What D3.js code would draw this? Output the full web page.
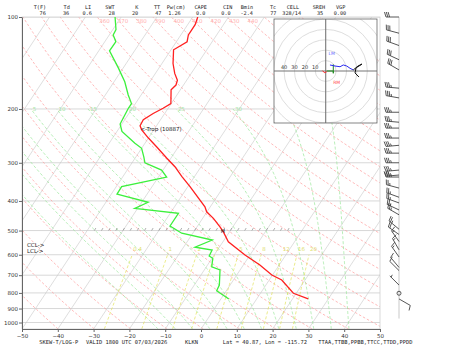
<!DOCTYPE html>
<html>
<head>
<meta charset="utf-8">
<script src="https://cdn.jsdelivr.net/npm/d3@7"></script>
<style>
    body { margin: 0; background: #fff; }
    svg text { font-family: "DejaVu Sans", sans-serif; }
    .mono { font-family: "DejaVu Sans Mono", monospace; }
</style>
</head>
<body>
<div id="chart"></div>
<script>

// ---------- sounding data ----------
let tempP  = [100, 106, 110, 114.5, 120.5, 128, 142, 153, 161, 167, 173, 192, 199, 207, 217, 227, 234, 249, 266, 290, 309, 333, 359, 418, 434, 456, 486, 504, 544, 601, 648, 699, 726, 802, 837];
let tempT  = [-58.6, -57.9, -57.9, -57.9, -57.0, -59.3, -56.9, -54.6, -52.6, -52.1, -52.6, -50.1, -51.4, -53.2, -54.8, -54.6, -53.4, -50.0, -46.1, -41.1, -37.3, -33.5, -29.4, -21.5, -20.1, -17.0, -13.6, -11.8, -8.5, -1.4, 4.6, 9.8, 13.5, 19.2, 24.4];

let dwptP  = [100, 110, 114.5, 120.5, 129, 147, 163, 180, 192, 199, 224, 237, 259, 269, 287, 300, 317, 334, 359, 380, 404, 423, 439, 483, 510, 537, 567, 579, 606, 616, 657, 673, 754, 787, 837];
let dwptT  = [-81.7, -79.1, -78.9, -76.9, -77.0, -71.3, -67.0, -63.6, -61.1, -61.1, -60.5, -58.6, -52.8, -50.0, -47.8, -46.4, -40.4, -37.7, -48.5, -48.4, -38.2, -40.8, -27.7, -27.7, -23.1, -13.3, -16.8, -11.5, -11.2, -9.8, -8.5, -5.6, -3.0, -2.7, 2.2];

// wind barbs: pressure (hPa), direction (deg), speed (kt)
let windP   = [100, 113, 124, 138, 149, 171, 184, 205, 221, 231, 249, 263, 279, 300, 317, 329, 334, 363, 389, 406, 428, 444, 495, 515, 543, 578, 610, 660, 676, 754, 802, 837];
let windDir = [270, 285, 290, 295, 300, 275, 280, 270, 275, 270, 270, 265, 270, 270, 265, 265, 270, 285, 290, 290, 295, 300, 310, 305, 325, 330, 325, 320, 315, 315, 0, 120];
let windSpd = [30, 30, 30, 30, 30, 35, 35, 35, 35, 35, 35, 35, 35, 35, 35, 35, 35, 25, 25, 25, 25, 25, 25, 20, 15, 15, 15, 10, 10, 5, 0, 10];

// hodograph segments (u, v in kt)
let hodoRedU   = [-3, -1.3, 1];
let hodoRedV   = [0.3, -1.6, -0.7];
let hodoGreenU = [1, 7.3, 7.3, 7.3];
let hodoGreenV = [0, 0, -2.2, 6.4];
let hodoBlueU  = [4.1, 8.9, 13.8, 16.9, 20.2, 23.4, 26.5];
let hodoBlueV  = [5.8, 4.8, 4.1, 5.8, 4.8, 2.6, 1.0];
let hodoBlackU = [26.5, 31.1, 34.9, 29.1, 28.2, 32.0];
let hodoBlackV = [1.0, 4.8, 6.7, 2.9, -1.9, -5.8];
let stormLM = [5.8, 17.6];
let stormRM = [10.6, -10.9];
let hodoRings = [10, 20, 30, 40, 50, 60, 70];
let hodoRingLabels = [40, 30, 20, 10];

// background line sets
let isotherms   = d3.range(-160, 51, 10);
let dryThetas   = d3.range(200, 481, 10);
let dryLabels   = [360, 370, 380, 390, 400, 410, 420, 430, 440];
let moistThetaW = [-15, -10, -5, 0, 5, 10, 15, 20, 25, 30, 35, 40];
let moistLabels = [5, 10, 15, 20, 25, 30];
let mixRatios   = [0.4, 1, 2, 3, 5, 8, 12, 16, 20];

// axes
let pressureTicks = [100, 200, 300, 400, 500, 600, 700, 800, 900, 1000];
let tempTicks     = d3.range(-50, 51, 10);

// header / footer text
let headerLabels = ["T(F)", "Td", "LI", "SWT", "K", "TT", "Pw(cm)", "CAPE", "CIN", "Bmin", "Tc", "CELL", "SREH", "VGP"];
let headerValues = ["76", "36", "0.6", "28", "20", "47", "1.26", "0.0", "0.0", "-2.4", "77", "328/14", "35", "0.00"];
let footerParts  = ["SKEW-T/LOG-P", "VALID 1800 UTC 07/03/2026", "KLKN", "Lat = 40.87, Lon = -115.72", "TTAA,TTBB,PPBB,TTCC,TTDD,PPDD"];

let tropP = 232, tropT = -54.5, tropLabel = "<-Trop (10887)";
let cclP = 559, lclP = 582;


// ---------- layout ----------
let W = 450, H = 346;
let plot = {left: 22, right: 380, top: 17, bottom: 329};
let skew = 0.662;

let svg = d3.select("#chart").append("svg")
    .attr("width", W)
    .attr("height", H);

let xS = d3.scaleLinear().domain([-50, 50]).range([plot.left, plot.right]);
let yS = d3.scaleLog().domain([1050, 100]).range([plot.bottom, plot.top]);

function X(T, p) {
    return xS(T) + skew * (yS(1050) - yS(p));
}

svg.append("defs").append("clipPath").attr("id", "plotclip")
    .append("rect")
    .attr("x", plot.left).attr("y", plot.top)
    .attr("width", plot.right - plot.left).attr("height", plot.bottom - plot.top);

let bg = svg.append("g").attr("clip-path", "url(#plotclip)");

let line = d3.line().x(d => X(d.T, d.p)).y(d => yS(d.p));

// log-spaced pressure levels
function levels(pBot, pTop, n) {
    return d3.range(n + 1).map(i => pBot * Math.pow(pTop / pBot, i / n));
}

// isobars
bg.selectAll(".isobar").data(pressureTicks).enter().append("line")
    .attr("x1", plot.left).attr("x2", plot.right)
    .attr("y1", d => yS(d)).attr("y2", d => yS(d))
    .attr("stroke", "#d8d8d8").attr("stroke-width", 1);

// isotherms
bg.selectAll(".isotherm").data(isotherms).enter().append("path")
    .attr("d", t => line([{T: t, p: 1050}, {T: t, p: 100}]))
    .attr("fill", "none").attr("stroke", "#c8c8c8").attr("stroke-width", 0.6);

// dry adiabats
let dryT = (theta, p) => theta * Math.pow(p / 1000, 0.2857) - 273.15;
bg.selectAll(".dry").data(dryThetas).enter().append("path")
    .attr("d", th => line(levels(1050, 100, 40).map(p => ({p: p, T: dryT(th, p)}))))
    .attr("fill", "none").attr("stroke", "#ff9c9c").attr("stroke-width", 0.7)
    .attr("stroke-dasharray", "2.5,2");

// moist adiabats
function es(Tk) { return 6.112 * Math.exp(17.67 * (Tk - 273.15) / (Tk - 29.65)); }
function dTdp(p, Tk) {
    let Rd = 287.04, cp = 1005.7, Lv = 2.501e6, eps = 0.622;
    let e = es(Tk);
    let rs = eps * e / (p - e);
    return (Rd * Tk + Lv * rs) / (p * (cp + Lv * Lv * rs * eps / (Rd * Tk * Tk)));
}
function moistPath(thw, pEnd) {
    let pts = [];
    let Tk = thw + 273.15, p = 1000, dp = (pEnd > 1000) ? 5 : -5;
    pts.push({p: p, T: Tk - 273.15});
    while ((dp < 0 && p > pEnd) || (dp > 0 && p < pEnd)) {
        let k1 = dTdp(p, Tk);
        let k2 = dTdp(p + dp, Tk + k1 * dp);
        Tk += 0.5 * (k1 + k2) * dp;
        p += dp;
        pts.push({p: p, T: Tk - 273.15});
    }
    return pts;
}
let moistLines = moistThetaW.map(thw => {
    let up = moistPath(thw, 200);
    let down = moistPath(thw, 1050).reverse();
    return down.concat(up.slice(1));
});
bg.selectAll(".moist").data(moistLines).enter().append("path")
    .attr("d", d => line(d))
    .attr("fill", "none").attr("stroke", "#98e698").attr("stroke-width", 0.7)
    .attr("stroke-dasharray", "3,2");

// mixing ratio lines
function tdFromW(w, p) {
    let e = (w / 1000) * p / (0.622 + w / 1000);
    let l = Math.log(e / 6.112);
    return 243.5 * l / (17.67 - l);
}
bg.selectAll(".mix").data(mixRatios).enter().append("path")
    .attr("d", w => line(levels(1050, 600, 20).map(p => ({p: p, T: tdFromW(w, p)}))))
    .attr("fill", "none").attr("stroke", "#e3e35a").attr("stroke-width", 0.7)
    .attr("stroke-dasharray", "3,2");

// 500 hPa hatch
bg.selectAll(".hatch").data(d3.range(-48, 7, 2)).enter().append("line")
    .attr("x1", t => X(t, 500)).attr("y1", yS(500))
    .attr("x2", t => X(t, 500) + 1.5).attr("y2", yS(500) - 2.5)
    .attr("stroke", "#777").attr("stroke-width", 0.6);

// line labels
svg.selectAll(".drylab").data(dryLabels).enter().append("text")
    .attr("x", th => X(dryT(th, 100), 100) + 2)
    .attr("y", 23)
    .attr("font-size", 5.5).attr("fill", "#ffb0b0")
    .text(d => d);

svg.selectAll(".moistlab").data(moistLabels).enter().append("text")
    .attr("x", thw => {
        let pts = moistLines[moistThetaW.indexOf(thw)];
        let top = pts[pts.length - 1];
        return X(top.T, top.p) + 2;
    })
    .attr("y", yS(200) + 2)
    .attr("font-size", 5.5).attr("fill", "#a6e6a6")
    .text(d => d);

svg.selectAll(".mixlab").data(mixRatios).enter().append("text")
    .attr("x", w => X(tdFromW(w, 600), 600) + 1)
    .attr("y", yS(600) - 4)
    .attr("font-size", 5.5).attr("fill", "#e0e070")
    .text(d => d);

// frame + axes
svg.append("rect")
    .attr("x", plot.left).attr("y", plot.top)
    .attr("width", plot.right - plot.left).attr("height", plot.bottom - plot.top)
    .attr("fill", "none").attr("stroke", "#d0d0d0").attr("stroke-width", 0.8);

let yAxis = d3.axisLeft(yS).tickValues(pressureTicks).tickFormat(d3.format("d")).tickSize(3).tickSizeOuter(0);
let yAxisGroup = svg.append("g").attr("transform", `translate(${plot.left},0)`).call(yAxis);

let xAxis = d3.axisBottom(xS).tickValues(tempTicks).tickFormat(d => d < 0 ? "\u2212" + (-d) : d).tickSize(3).tickSizeOuter(0);
let xAxisGroup = svg.append("g").attr("transform", `translate(0,${plot.bottom})`).call(xAxis);

[yAxisGroup, xAxisGroup].forEach(g => {
    g.selectAll("text").attr("font-size", 5.5).attr("fill", "#333").attr("font-family", "DejaVu Sans");
    g.select(".domain").attr("stroke", "#666");
    g.selectAll(".tick line").attr("stroke", "#666");
});
yAxisGroup.selectAll("text").attr("x", -4);
xAxisGroup.selectAll("text").attr("y", 5);

// temperature / dewpoint traces
let traces = svg.append("g").attr("clip-path", "url(#plotclip)");
traces.append("path")
    .datum(dwptP.map((p, i) => ({p: p, T: dwptT[i]})))
    .attr("d", line)
    .attr("fill", "none").attr("stroke", "#3cf03c").attr("stroke-width", 1.3);
traces.append("path")
    .datum(tempP.map((p, i) => ({p: p, T: tempT[i]})))
    .attr("d", line)
    .attr("fill", "none").attr("stroke", "#ff2020").attr("stroke-width", 1.3);

// annotations
svg.append("text")
    .attr("x", X(tropT, tropP) + 2).attr("y", yS(tropP) + 2.5)
    .attr("font-size", 5.5).attr("fill", "#222")
    .text(tropLabel);

let t500 = tempT[d3.bisectLeft(tempP, 500)];
svg.append("text")
    .attr("x", X(t500, 500) - 1).attr("y", yS(500) + 2)
    .attr("text-anchor", "middle")
    .attr("font-size", 5).attr("fill", "#222")
    .text("M");

svg.append("text").attr("x", 27).attr("y", yS(cclP) + 2)
    .attr("font-size", 5.5).attr("fill", "#222").text("CCL->");
svg.append("text").attr("x", 27).attr("y", yS(lclP) + 2)
    .attr("font-size", 5.5).attr("fill", "#222").text("LCL->");

// ---------- wind barbs ----------
let barbX = 399;
let barbs = svg.append("g").attr("stroke", "#444").attr("fill", "#444").attr("stroke-width", 0.9);
barbs.append("line")
    .attr("x1", barbX).attr("x2", barbX)
    .attr("y1", plot.top).attr("y2", yS(1000) - 4)
    .attr("stroke", "#bbb").attr("stroke-width", 0.8);

function drawBarb(g, x0, y0, dir, spd) {
    if (spd < 2.5) {
        g.append("circle").attr("cx", x0).attr("cy", y0).attr("r", 2)
            .attr("fill", "none");
        return;
    }
    let L = 13, rad = dir * Math.PI / 180;
    let sx = Math.sin(rad), sy = -Math.cos(rad);
    let bx = -sy, by = sx;
    let tx = x0 + sx * L, ty = y0 + sy * L;
    g.append("line").attr("x1", x0).attr("y1", y0).attr("x2", tx).attr("y2", ty);
    let s = Math.round(spd / 5) * 5;
    let pos = 0;
    while (s >= 50) {
        let px = tx - sx * pos, py = ty - sy * pos;
        g.append("path").attr("d", `M${px},${py}L${px + bx * 5},${py + by * 5}L${px - sx * 3},${py - sy * 3}Z`);
        pos += 3.5; s -= 50;
    }
    while (s >= 10) {
        let px = tx - sx * pos, py = ty - sy * pos;
        g.append("line").attr("x1", px).attr("y1", py)
            .attr("x2", px + bx * 5 + sx * 1.5).attr("y2", py + by * 5 + sy * 1.5);
        pos += 1.8; s -= 10;
    }
    if (s >= 5) {
        if (pos === 0) pos = 1.8;
        let px = tx - sx * pos, py = ty - sy * pos;
        g.append("line").attr("x1", px).attr("y1", py)
            .attr("x2", px + bx * 2.5 + sx * 0.8).attr("y2", py + by * 2.5 + sy * 0.8);
    }
}

windP.forEach((p, i) => drawBarb(barbs, barbX, yS(p), windDir[i], windSpd[i]));

// ---------- hodograph inset ----------
let hodo = {x0: 274, y0: 19, w: 103, h: 104};
let hcx = 325.7, hcy = 71;
let hk = d3.scaleLinear().domain([0, 10]).range([0, 10.4]);
let hu = u => hcx + hk(u);
let hv = v => hcy - hk(v);

svg.append("defs").append("clipPath").attr("id", "hodoclip")
    .append("rect").attr("x", hodo.x0).attr("y", hodo.y0).attr("width", hodo.w).attr("height", hodo.h);

let hg = svg.append("g");
hg.append("rect")
    .attr("x", hodo.x0).attr("y", hodo.y0).attr("width", hodo.w).attr("height", hodo.h)
    .attr("fill", "#fff");

let hin = hg.append("g").attr("clip-path", "url(#hodoclip)");
hin.selectAll(".ring").data(hodoRings).enter().append("circle")
    .attr("cx", hcx).attr("cy", hcy).attr("r", d => hk(d))
    .attr("fill", "none").attr("stroke", "#cfcfcf").attr("stroke-width", 0.7);
hin.append("line").attr("x1", hodo.x0).attr("x2", hodo.x0 + hodo.w).attr("y1", hcy).attr("y2", hcy)
    .attr("stroke", "#777").attr("stroke-width", 1.1);
hin.append("line").attr("y1", hodo.y0).attr("y2", hodo.y0 + hodo.h).attr("x1", hcx).attr("x2", hcx)
    .attr("stroke", "#777").attr("stroke-width", 1.1);

hin.selectAll(".rlab").data(hodoRingLabels).enter().append("text")
    .attr("x", d => hcx - hk(d)).attr("y", hcy - 2.5)
    .attr("text-anchor", "middle")
    .attr("font-size", 5).attr("fill", "#333")
    .text(d => d);

let hline = d3.line().x(d => hu(d[0])).y(d => hv(d[1]));
[[hodoRedU, hodoRedV, "#ff2020"],
 [hodoGreenU, hodoGreenV, "#1d8a1d"],
 [hodoBlueU, hodoBlueV, "#2a2af0"],
 [hodoBlackU, hodoBlackV, "#111"]].forEach(s => {
    hin.append("path")
        .datum(s[0].map((u, i) => [u, s[1][i]]))
        .attr("d", hline)
        .attr("fill", "none").attr("stroke", s[2]).attr("stroke-width", 1);
});

hin.append("text").attr("x", hu(stormLM[0])).attr("y", hv(stormLM[1]) + 2)
    .attr("text-anchor", "middle").attr("font-size", 4.5).attr("fill", "#6a6aff").text("LM");
hin.append("text").attr("x", hu(stormRM[0])).attr("y", hv(stormRM[1]) + 2)
    .attr("text-anchor", "middle").attr("font-size", 4.5).attr("fill", "#ff5050").text("RM");

hg.append("rect")
    .attr("x", hodo.x0).attr("y", hodo.y0).attr("width", hodo.w).attr("height", hodo.h)
    .attr("fill", "none").attr("stroke", "#666").attr("stroke-width", 0.8);

// ---------- header and footer ----------
let headerX = [40, 66.7, 88, 110, 136.7, 157, 176, 200.7, 227.7, 247, 273, 293, 319, 340.7];
let valueX  = [42.7, 66, 87.3, 111.7, 135, 158.3, 174.5, 200.7, 226, 246.7, 273.3, 291.7, 320, 340];

svg.selectAll(".hlab").data(headerLabels).enter().append("text")
    .attr("class", "mono")
    .attr("x", (d, i) => headerX[i]).attr("y", 8.5)
    .attr("text-anchor", "middle").attr("font-size", 5.2).attr("fill", "#222")
    .text(d => d);
svg.selectAll(".hval").data(headerValues).enter().append("text")
    .attr("class", "mono")
    .attr("x", (d, i) => valueX[i]).attr("y", 14.5)
    .attr("text-anchor", "middle").attr("font-size", 5.2).attr("fill", "#222")
    .text(d => d);

let footerX = [39.3, 86, 185, 222.7, 318.3];
svg.selectAll(".foot").data(footerParts).enter().append("text")
    .attr("class", "mono")
    .attr("x", (d, i) => footerX[i]).attr("y", 344)
    .attr("font-size", 5.4).attr("fill", "#222")
    .text(d => d);

</script>
</body>
</html>
